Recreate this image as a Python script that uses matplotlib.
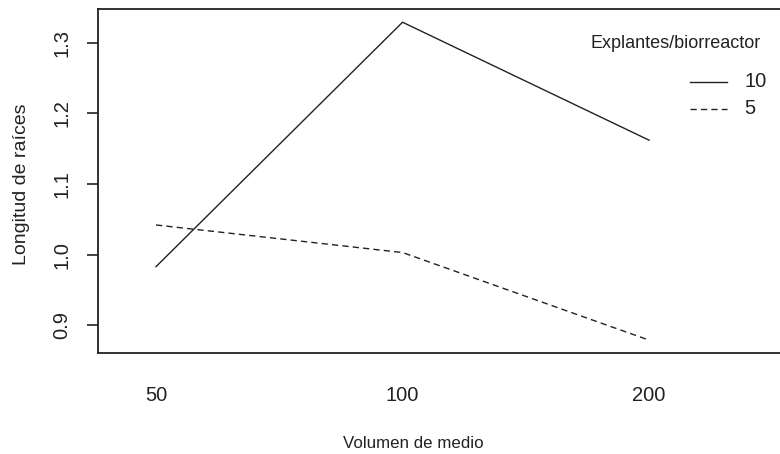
import matplotlib
matplotlib.use("Agg")
import matplotlib.pyplot as plt
from matplotlib.lines import Line2D

plt.rcParams['font.family'] = ['Liberation Sans', 'DejaVu Sans']

# Interaction of medium volume and explants per bioreactor on root length
volumes = ["50", "100", "200"]
groups = ["10", "5"]
root_10 = [0.983, 1.329, 1.162]
root_5 = [1.042, 1.003, 0.879]
y_ticks = [0.9, 1.0, 1.1, 1.2, 1.3]

W, H = 780, 454
fig = plt.figure(figsize=(W / 100, H / 100), dpi=100)
ax = fig.add_axes([98 / W, 1 - 353 / H, 1 - 98 / W, (353 - 9) / H])

x = list(range(1, len(volumes) + 1))
ink = "#222222"
ax.plot(x, root_10, color=ink, lw=1.0, linestyle="-")
ax.plot(x, root_5, color=ink, lw=1.0, linestyle=(0, (4.5, 3)))

ax.set_xlim(0.7647, 3.531)
ax.set_ylim(0.8608, 1.3477)

ax.set_xticks(x)
ax.set_xticklabels(volumes, fontsize=14.5, color=ink)
ax.tick_params(axis="x", length=0, pad=24)
ax.set_yticks(y_ticks)
ax.set_yticklabels([f"{v:.1f}" for v in y_ticks], fontsize=14.5, color=ink,
                   rotation=90, va="center")
ax.tick_params(axis="y", length=8, width=1.2, color=ink, pad=11)

for side in ("left", "bottom", "top"):
    ax.spines[side].set_color(ink)
    ax.spines[side].set_linewidth(1.3)
ax.spines["right"].set_visible(False)

fig.text(413 / W, 1 - 443 / H, "Volumen de medio", fontsize=12.2, color=ink,
         ha="center", va="center")
fig.text(22 / W, 1 - 184 / H, "Longitud de raíces", fontsize=14, color=ink,
         ha="center", va="center", rotation=90)

# legend keyed by explants per bioreactor
fig.text(675.5 / W, 1 - 43 / H, "Explantes/biorreactor", fontsize=13,
         color=ink, ha="center", va="center")
legend_rows = [(81.5, "-", groups[0]), (108.5, (0, (4.5, 3)), groups[1])]
for yy, ls, lab in legend_rows:
    fig.add_artist(Line2D([690 / W, 727 / W], [1 - yy / H, 1 - yy / H],
                          color=ink, lw=1.0, linestyle=ls))
    fig.text(744 / W, 1 - yy / H, lab, fontsize=14.5, color=ink,
             ha="left", va="center")

fig.savefig("out.png", dpi=100)
